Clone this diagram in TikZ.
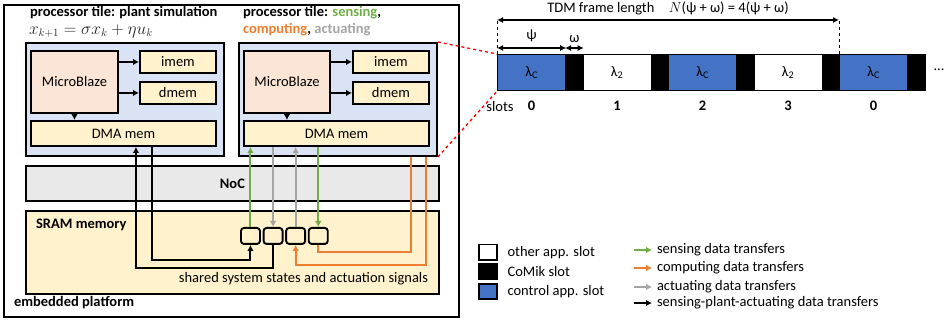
\documentclass[tikz,border=0pt]{standalone}
\usepackage{fontspec}
\setmainfont{Carlito}
\usetikzlibrary{calc,arrows.meta}
\definecolor{tileblue}{HTML}{DAE3F3}
\definecolor{peach}{HTML}{FBE5D6}
\definecolor{cream}{HTML}{FFF2CC}
\definecolor{nocgray}{HTML}{E9E9E9}
\definecolor{ctrlblue}{HTML}{4472C4}
\definecolor{sgreen}{HTML}{70AD47}
\definecolor{corange}{HTML}{ED7D31}
\definecolor{cgray}{HTML}{A5A5A5}
\tikzset{
box/.style = {draw, line width = 1.9pt, anchor = north west, inner sep = 0pt},
tile/.style = {box, fill = tileblue, minimum width = 198, minimum height = 113},
core/.style = {box, fill = peach, minimum width = 87, minimum height = 62},
memb/.style = {box, fill = cream, minimum width = 76, minimum height = 22},
dma/.style = {box, fill = cream, minimum width = 185, minimum height = 25},
sbox/.style = {box, fill = cream, rounded corners = 3pt, minimum width = 19, minimum height = 16},
slotbox/.style = {draw, line width = 1.2pt, anchor = north west, inner sep = 0pt, minimum width = 68, minimum height = 36},
comik/.style = {slotbox, fill = black, minimum width = 17.5},
keybox/.style = {draw, line width = 1.5pt, anchor = north west, minimum width = 18, minimum height = 15, inner sep = 0pt},
blkarrow/.style = {line width = 2pt, -{Latex[length = 6pt, width = 6.5pt]}},
grnarrow/.style = {blkarrow, color = sgreen},
orgarrow/.style = {blkarrow, color = corange},
gryarrow/.style = {blkarrow, color = cgray},
dimline/.style = {line width = 1.7pt, {Latex[length = 6pt, width = 6pt]}-{Latex[length = 6pt, width = 6pt]}}
}
\begin{document}
\fontsize{14.5}{17}\selectfont
\begin{tikzpicture}[x=1pt,y=-1pt]
\useasboundingbox (0,0) rectangle (944,320);
%
\def\psiw{68}
\def\period{85.5}
\def\xzero{497}
%
% platform
\node[box, minimum width = 455, minimum height = 312] (platform) at (3,4) {};
\node[anchor = west, font = \bfseries] (platlabel) at (9,303) {embedded platform};
%
% plant tile
\node[anchor = west, font = \bfseries] (titleL) at (25,13) {processor tile: plant simulation};
\node[anchor = west, color = black!85, font = \fontsize{16}{18}\selectfont] (eqL) at (24,31) {$x_{k+1}=\sigma x_k+\eta u_k$};
\node[tile] (tileL) at (25,42) {};
\node[core] (mbL) at (30,50) {MicroBlaze};
\node[memb] (imemL) at (139,50) {imem};
\node[memb] (dmemL) at (139,81) {dmem};
\node[dma] (dmaL) at (30,120) {DMA mem};
\draw[blkarrow] (mbL.east |- imemL.west) -- (imemL.west);
\draw[blkarrow] (mbL.east |- dmemL.west) -- (dmemL.west);
\draw[blkarrow] (mbL.south) -- (mbL.south |- dmaL.north);
%
% control tile
\node[anchor = west, font = \bfseries] (titleR) at (238,13) {processor tile: \textcolor{sgreen}{sensing},};
\node[anchor = west, font = \bfseries] (titleR2) at (238,30) {\textcolor{corange}{computing}, \textcolor{cgray}{actuating}};
\node[tile] (tileR) at (238,42) {};
\node[core, minimum width = 86] (mbR) at (243,50) {MicroBlaze};
\node[memb] (imemR) at (352,50) {imem};
\node[memb] (dmemR) at (352,81) {dmem};
\node[dma] (dmaR) at (243,120) {DMA mem};
\draw[blkarrow] (mbR.east |- imemR.west) -- (imemR.west);
\draw[blkarrow] (mbR.east |- dmemR.west) -- (dmemR.west);
\draw[blkarrow] (mbR.south) -- (mbR.south |- dmaR.north);
%
% NoC and SRAM
\node[box, fill = nocgray, minimum width = 413, minimum height = 35, font = \bfseries] (noc) at (25,165) {NoC};
\node[box, fill = cream, minimum width = 413, minimum height = 83] (sram) at (25,210) {};
\node[anchor = west, font = \bfseries] (sramlabel) at (31,225) {SRAM memory};
\node[anchor = east] (shared) at (433,279) {shared system states and actuation signals};
\foreach \i in {1,...,4} {
\node[sbox] (sb\i) at ({240+22.6*(\i-1)},227) {};
}
%
% transfers
\draw[grnarrow] (sb1.north) -- (sb1.north |- dmaR.south);
\draw[gryarrow] (sb2.north |- dmaR.south) -- (sb2.north);
\draw[gryarrow] (sb3.north) -- (sb3.north |- dmaR.south);
\draw[grnarrow] (sb4.north |- dmaR.south) -- (sb4.north);
\draw[line width = 2pt, color = corange] (sb4.south) -- ++(0,7) -| ([xshift = 73pt]tileR.south);
\draw[orgarrow] ([xshift = 88pt]tileR.south) |- ([yshift = -20pt]sb3.south) -- (sb3.south);
\draw[blkarrow] ([xshift = 28.5pt]dmaL.south) |- ([yshift = -15pt]sb1.south) -- (sb1.south);
\draw[blkarrow] (sb2.south) -- ++(0,23) -| ([xshift = 12.5pt]dmaL.south);
%
% TDM slots
\foreach \i/\lbl/\col/\num in {1/C/ctrlblue/0,2/2/white/1,3/C/ctrlblue/2,4/2/white/3,5/C/ctrlblue/0} {
\node[slotbox, fill = \col] (s\i) at ({\xzero+\period*(\i-1)},54) {λ\textsubscript{\lbl}};
\node[comik] (c\i) at ({\xzero+\psiw+\period*(\i-1)},54) {};
\node[anchor = north, font = \bfseries] (n\i) at ([yshift = -5pt]s\i.south) {\num};
}
\node[anchor = north] (slotlabel) at ([xshift = 3pt,yshift = -5pt]s1.south west) {slots};
\node (dots) at (939,70) {...};
%
\draw[red, dashed, line width = 1.3pt] (tileR.north east) -- (s1.north west);
\draw[red, dashed, line width = 1.3pt] (tileR.south east) -- (s1.south west);
%
\draw[dashed, line width = 0.9pt] (s1.north west) -- ([yshift = 34pt]s1.north west);
\draw[dashed, line width = 0.9pt] (s5.north west) -- ([yshift = 34pt]s5.north west);
\draw[dimline] ([yshift = 34pt]s1.north west) -- ([yshift = 34pt]s5.north west)
node[midway, above, yshift = -1pt] {TDM frame length\quad $N$(ψ + ω) = 4(ψ + ω)};
\draw[dimline] ([yshift = 6pt]s1.north west) -- ([yshift = 6pt]s1.north east) node[midway, above] {ψ};
\draw[dimline] ([yshift = 6pt]c1.north west) -- ([yshift = 6pt]c1.north east) node[midway, above] {ω};
%
% legend
\foreach \y/\col/\txt [count=\i] in {244/white/other app. slot,263/black/CoMik slot,283/ctrlblue/control app. slot} {
\node[keybox, fill = \col] (key\i) at (478,\y) {};
\node[anchor = west, xshift = 5pt] (keytext\i) at (key\i.east) {\txt};
}
\foreach \y/\sty/\txt [count=\i] in {250/grnarrow/sensing data transfers,268/orgarrow/computing data transfers,287/gryarrow/actuating data transfers,303/blkarrow/sensing-plant-actuating data transfers} {
\coordinate (la\i) at (634,\y);
\node[anchor = west] (lt\i) at (652,\y) {\txt};
\draw[\sty, line width = 2.2pt] (la\i) -- (lt\i.west);
}
%
\end{tikzpicture}
\end{document}
